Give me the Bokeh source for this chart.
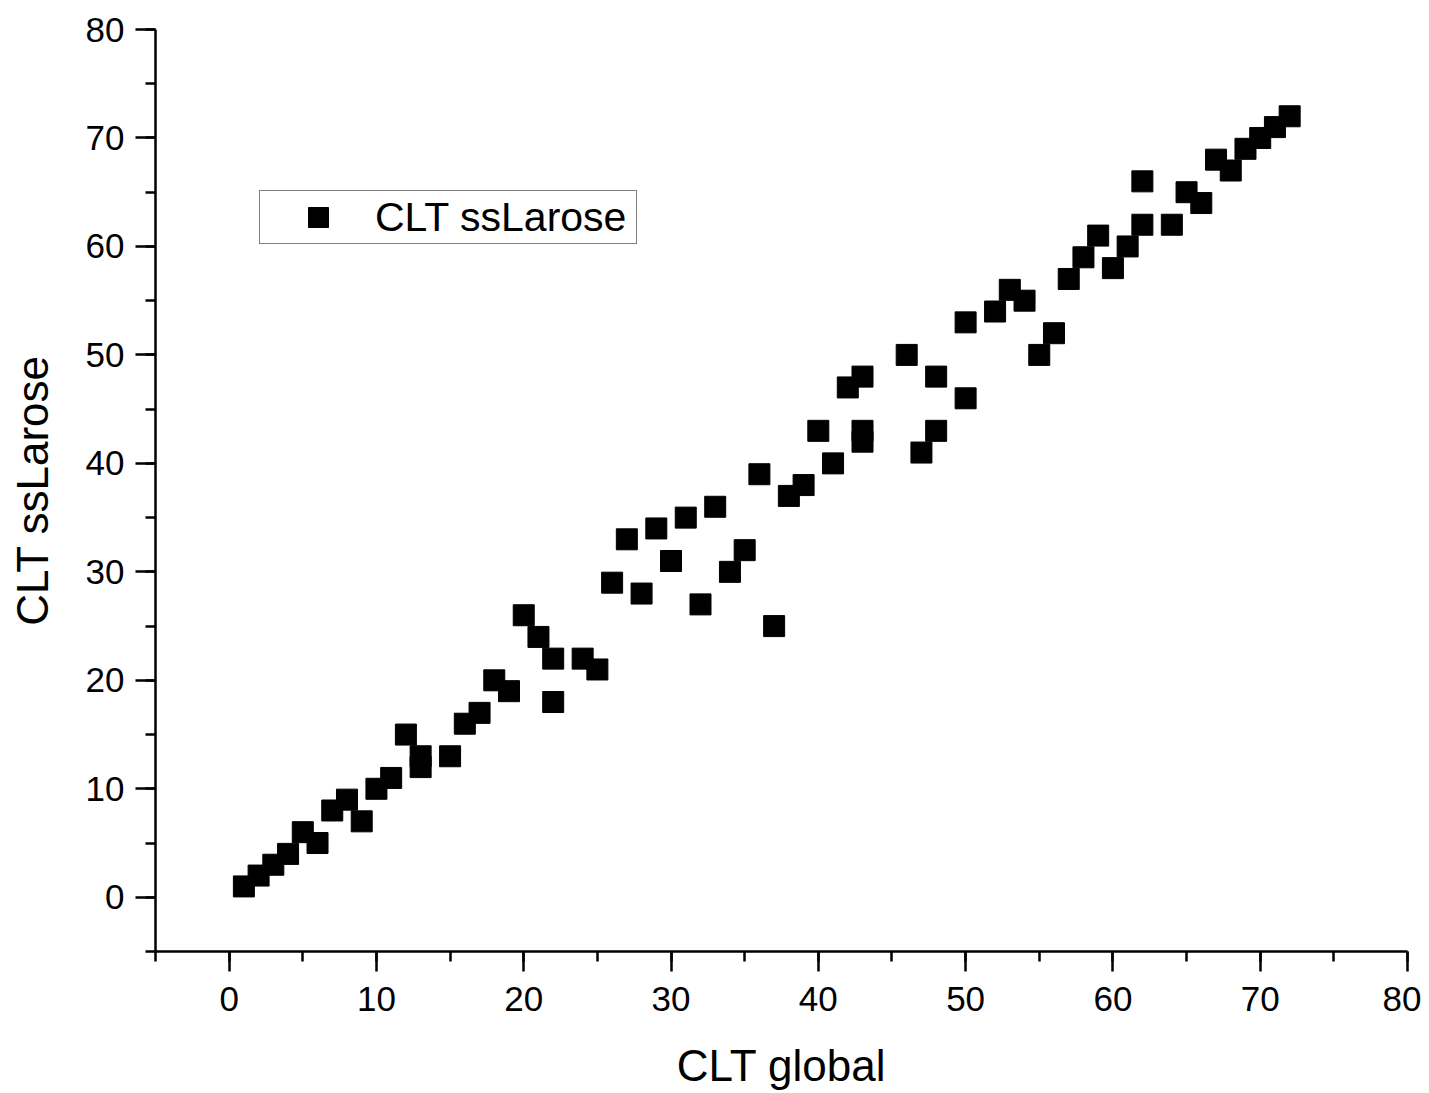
from bokeh.plotting import figure
from bokeh.models import Range1d, SingleIntervalTicker, Legend, LegendItem
from bokeh.embed import file_html
from bokeh.resources import INLINE

clt_global = [1, 2, 3, 4, 5, 6, 7, 8, 9, 10, 11, 12, 13, 13, 15, 16, 17, 18, 19, 20,
              21, 22, 22, 24, 25, 26, 27, 28, 29, 30, 31, 32, 33, 34, 35, 36, 37, 38, 39, 40,
              41, 42, 43, 43, 43, 46, 47, 48, 48, 50, 50, 52, 53, 54, 55, 56, 57, 58, 59, 60,
              61, 62, 62, 64, 65, 66, 67, 68, 69, 70, 71, 72]
clt_sslarose = [1, 2, 3, 4, 6, 5, 8, 9, 7, 10, 11, 15, 13, 12, 13, 16, 17, 20, 19, 26,
                24, 22, 18, 22, 21, 29, 33, 28, 34, 31, 35, 27, 36, 30, 32, 39, 25, 37, 38, 43,
                40, 47, 48, 43, 42, 50, 41, 48, 43, 53, 46, 54, 56, 55, 50, 52, 57, 59, 61, 58,
                60, 62, 66, 62, 65, 64, 68, 67, 69, 70, 71, 72]
series_name = "CLT ssLarose"
x_label = "CLT global"
y_label = "CLT ssLarose"

FONT = "Liberation Sans"

p = figure(width=1421, height=1093, output_backend="svg", toolbar_location=None,
           x_range=Range1d(-5, 80), y_range=Range1d(-5, 80),
           min_border_left=155, min_border_right=14, min_border_top=29, min_border_bottom=142)
p.outline_line_color = None
p.xgrid.grid_line_color = None
p.ygrid.grid_line_color = None
p.background_fill_color = "white"
p.border_fill_color = "white"

r = p.scatter(clt_global, clt_sslarose, marker="square", size=21,
              fill_color="black", line_color="black")

for ax, lab in ((p.xaxis[0], x_label), (p.yaxis[0], y_label)):
    ax.ticker = SingleIntervalTicker(interval=10, num_minor_ticks=2)
    ax.axis_label = lab
    ax.axis_label_text_font = FONT
    ax.axis_label_text_font_size = "44px"
    ax.axis_label_text_font_style = "normal"
    ax.axis_label_text_color = "black"
    ax.major_label_text_font = FONT
    ax.major_label_text_font_size = "35px"
    ax.major_label_text_color = "black"
    ax.axis_line_width = 2.5
    ax.axis_line_color = "black"
    ax.major_tick_line_width = 2.5
    ax.minor_tick_line_width = 2.5
    ax.major_tick_line_color = "black"
    ax.minor_tick_line_color = "black"
    ax.major_tick_in = 0
    ax.major_tick_out = 20
    ax.minor_tick_in = 0
    ax.minor_tick_out = 10

p.xaxis[0].major_label_standoff = 15
p.xaxis[0].axis_label_standoff = 27
p.yaxis[0].major_label_standoff = 11
p.yaxis[0].axis_label_standoff = 26

legend = Legend(items=[LegendItem(label=series_name, renderers=[r])],
                location=(104, 707), orientation="vertical")
legend.glyph_height = 50
legend.glyph_width = 114
legend.padding = 1
legend.margin = 0
legend.spacing = 0
legend.label_standoff = 0
legend.label_width = 260
legend.label_text_font = FONT
legend.label_text_font_size = "41px"
legend.label_text_color = "black"
legend.border_line_color = "black"
legend.border_line_width = 1
legend.background_fill_color = "white"
legend.background_fill_alpha = 1
p.add_layout(legend, "center")

open("out.html", "w").write(file_html(p, INLINE))
